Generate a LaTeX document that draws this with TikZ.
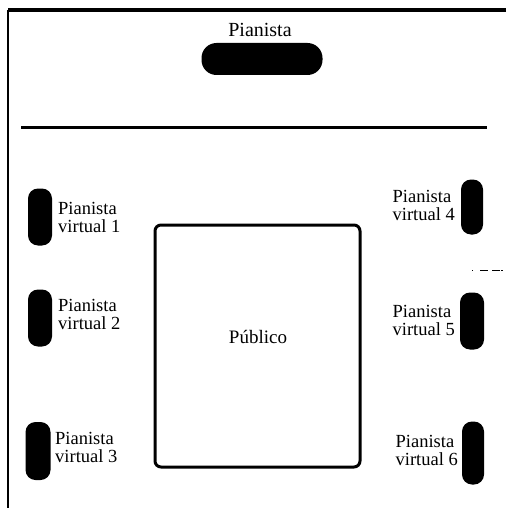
\documentclass[tikz,border=0pt]{standalone}
\usepackage{fontspec}
\setmainfont{Liberation Serif}
\begin{document}
\begin{tikzpicture}[x=1pt,y=-1pt,
  pill/.style={fill=black,draw=none,rounded corners=10pt,inner sep=0pt},
  lbl/.style={font=\fontsize{18.5}{18}\selectfont,inner sep=0pt,align=left},
  stage/.style={draw=black,line width=3pt,rounded corners=6pt,inner sep=0pt}]
  \useasboundingbox (0,0) rectangle (506,508);
  % frame
  \coordinate (tl) at (8,10);
  \coordinate (tr) at (506,10);
  \coordinate (bl) at (8,508);
  \draw[line width=4pt] (tr) -- (tl);
  \draw[line width=2.5pt] (tl) -- (bl);
  % the pianist on stage
  \node[font=\fontsize{20}{20}\selectfont,inner sep=0pt] (ptit) at (260,30) {Pianista};
  \node[pill,minimum width=121pt,minimum height=32pt,rounded corners=15pt] (ppiano) at (262,59) {};
  % stage edge
  \coordinate (sl) at (21,127.5);
  \coordinate (sr) at (487,127.5);
  \draw[line width=2.5pt] (sl) -- (sr);
  % audience
  \node[stage,minimum width=205pt,minimum height=242pt] (pub) at (257.5,346) {};
  \node[font=\fontsize{19}{19}\selectfont] (pubtxt) at (258,337) {Público};
  % virtual pianists, left side
  \node[pill,minimum width=24pt,minimum height=57pt] (v1) at (40,217) {};
  \node[pill,minimum width=24pt,minimum height=57pt] (v2) at (40,318) {};
  \node[pill,minimum width=25pt,minimum height=58pt] (v3) at (38,451) {};
  \node[lbl,anchor=west] (t1) at (58,217) {Pianista\\virtual 1};
  \node[lbl,anchor=west] (t2) at (58,314) {Pianista\\virtual 2};
  \node[lbl,anchor=west] (t3) at (55,447) {Pianista\\virtual 3};
  % virtual pianists, right side
  \node[pill,minimum width=22pt,minimum height=55pt] (v4) at (472,207) {};
  \node[pill,minimum width=24pt,minimum height=57pt] (v5) at (472,321) {};
  \node[pill,minimum width=22pt,minimum height=63pt] (v6) at (473,453) {};
  \node[lbl,anchor=east] (t4) at (455,205) {Pianista\\virtual 4};
  \node[lbl,anchor=east] (t5) at (455,320) {Pianista\\virtual 5};
  \node[lbl,anchor=east] (t6) at (458,450) {Pianista\\virtual 6};
  % small dash mark
  \coordinate (d1) at (472,270);
  \coordinate (d2) at (503,270);
  \draw[line width=1pt,dash pattern=on 1pt off 7pt on 8pt off 4pt on 8pt] (d1) -- (d2);
\end{tikzpicture}
\end{document}
